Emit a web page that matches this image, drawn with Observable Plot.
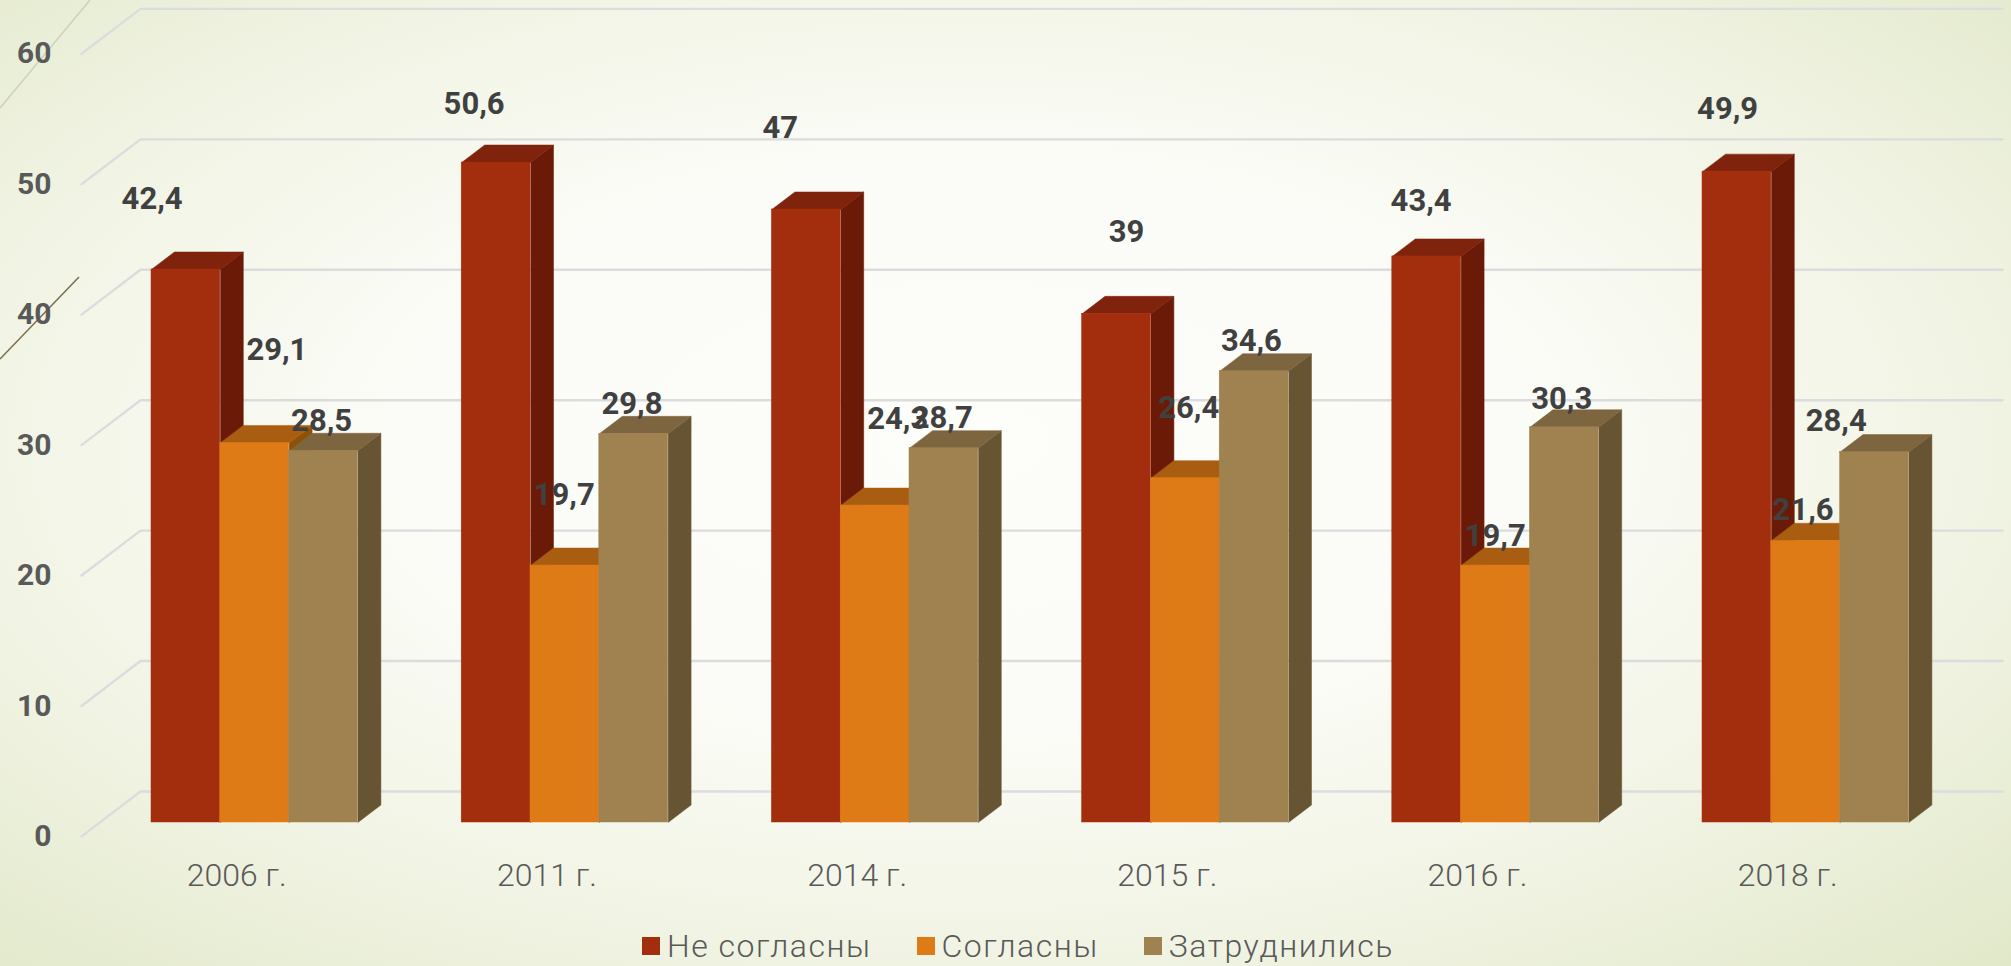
<!DOCTYPE html>
<html lang="ru">
<head>
<meta charset="utf-8">
<script src="https://cdn.jsdelivr.net/npm/d3@7"></script>
<script src="https://cdn.jsdelivr.net/npm/@observablehq/plot@0.6"></script>
<style>
  html, body { margin: 0; padding: 0; width: 2011px; height: 966px; overflow: hidden; }
  body {
    position: relative;
    background-color: #f4f7ea;
    background-image:
      url("data:image/svg+xml,%3Csvg xmlns='http://www.w3.org/2000/svg' width='2011' height='966'%3E%3Cline x1='0' y1='108' x2='90' y2='0' stroke='%23cfd1bd' stroke-width='1.5'/%3E%3Cline x1='0' y1='359' x2='79' y2='277' stroke='%237a6c4e' stroke-width='1.5'/%3E%3C/svg%3E"),
      radial-gradient(ellipse farthest-corner at 48% 46%, #fdfdfa 0%, #fbfcf7 38%, #f1f4e4 68%, #e1e8c9 100%);
    font-family: Roboto, "Noto Sans", sans-serif;
  }
  #chart svg { display: block; }
  #legend { position: absolute; left: 642px; top: 926px; height: 40px; display: flex; align-items: center; color: #595959; font-size: 32px; font-weight: 300; letter-spacing: 1.5px; white-space: nowrap; }
  #legend .sw { width: 18px; height: 18px; margin-right: 7px; flex: none; }
  #legend .it { display: flex; align-items: center; }
</style>
</head>
<body>
<div id="chart"></div>
<div id="legend"></div>
<script>
// Data
const years = ["2006 г.", "2011 г.", "2014 г.", "2015 г.", "2016 г.", "2018 г."];
const seriesNames = ["Не согласны", "Согласны", "Затруднились"];
const disagree = [42.4, 50.6, 47, 39, 43.4, 49.9];
const agree = [29.1, 19.7, 24.3, 26.4, 19.7, 21.6];
const unsure = [28.5, 29.8, 28.7, 34.6, 30.3, 28.4];
const yTicks = [0, 10, 20, 30, 40, 50, 60];

// Styles
const frontColors = ["#a32e0d", "#de7b17", "#9f8250"];
const topColors = ["#7f230c", "#a95d10", "#7c653f"];
const sideColors = ["#6b1a08", "#8f5007", "#675433"];

// Hand placement of the value labels, in pixels from the bar's top centre
const labelNudgeX = [
  [-33.8, -22, -26, 10, -5.6, -9.3],
  [22.2, -0.7, 22.6, 3.5, -0.2, -2.6],
  [-1.9, -1.7, -1.6, -2.7, -2.6, -38.3]
];
const labelNudgeY = [
  [-70.6, -58.5, -81.1, -81.7, -54.9, -62.5],
  [-92.9, -70.6, -86.2, -70.4, -29.6, -30.4],
  [-30.1, -29.8, -30.1, -30.1, -28.4, -31.4]
];

// Scale geometry: x is in group slots, y in chart values
const W = 2011, H = 926, mL = 60, mT = 39.4, mB = 104;
const slotPx = 310.2, originPx = 151;
const unitPx = (H - mB - mT) / 60;
const barW = 68.8 / slotPx;
const depthX = 23 / slotPx, depthY = 17.5 / unitPx;
const gridFrontX = (81 - originPx) / slotPx, gridBackX = (140 - originPx) / slotPx, gridEndX = (2002 - originPx) / slotPx;
const gridFrontY = -13.9 / unitPx, gridBackY = 31 / unitPx;

const valuesBySeries = [disagree, agree, unsure];
const bars = [];
years.forEach((year, g) => {
  valuesBySeries.forEach((vals, s) => {
    const x1 = g + s * barW;
    bars.push({year, s, g, value: vals[g], x1, x2: x1 + barW, color: frontColors[s]});
  });
});

// Visible side and top faces of each box, left to right
const faces = [];
bars.forEach((b, i) => {
  [[b.x2, 0], [b.x2 + depthX, depthY], [b.x2 + depthX, b.value + depthY], [b.x2, b.value]]
    .forEach(([x, y]) => faces.push({id: "side" + i, x, y, fill: sideColors[b.s]}));
  [[b.x1, b.value], [b.x1 + depthX, b.value + depthY], [b.x2 + depthX, b.value + depthY], [b.x2, b.value]]
    .forEach(([x, y]) => faces.push({id: "top" + i, x, y, fill: topColors[b.s]}));
});

const grid = yTicks.flatMap(v => [
  {v, x: gridFrontX, y: v + gridFrontY},
  {v, x: gridBackX, y: v + gridBackY},
  {v, x: gridEndX, y: v + gridBackY}
]);

const labels = bars.map(b => ({
  text: String(b.value).replace(".", ","),
  x: b.x1 + barW / 2 + labelNudgeX[b.s][b.g] / slotPx,
  y: b.value - labelNudgeY[b.s][b.g] / unitPx
}));

const chart = Plot.plot({
  width: W, height: H,
  marginLeft: mL, marginRight: 0, marginTop: mT, marginBottom: mB,
  style: {background: "transparent", fontFamily: "Roboto, 'Noto Sans', sans-serif"},
  x: {domain: [(mL - originPx) / slotPx, (W - originPx) / slotPx]},
  y: {domain: [0, 60]},
  color: {type: "identity"},
  marks: [
    Plot.line(grid, {x: "x", y: "y", z: "v", stroke: "#dcdcde", strokeWidth: 2.4, curve: "linear"}),
    Plot.line(faces, {x: "x", y: "y", z: "id", fill: "fill", stroke: "fill", strokeWidth: 0.5, curve: "linear"}),
    Plot.rectY(bars, {x1: "x1", x2: "x2", y1: 0, y2: "value", fill: "color", stroke: "color", strokeWidth: 0.5, inset: 0}),
    Plot.axisY({ticks: yTicks, tickSize: 0, tickPadding: 9, dy: 13.9, label: null, tickFormat: d => String(d),
      fontSize: 30, fontWeight: 700, color: "#595959"}),
    Plot.axisX({ticks: years.map((_, g) => g + 1.5 * barW), tickSize: 0, tickPadding: 41, dx: -18, label: null,
      tickFormat: (d, i) => years[i], fontSize: 32, fontWeight: 300, color: "#595959"}),
    Plot.text(labels, {x: "x", y: "y", text: "text", fontSize: 31, fontWeight: 700, fill: "#404040"})
  ]
});
document.getElementById("chart").append(chart);

const legend = document.getElementById("legend");
const gaps = [45, 45, 0];
seriesNames.forEach((name, i) => {
  const it = document.createElement("div");
  it.className = "it";
  it.style.marginRight = gaps[i] + "px";
  const sw = document.createElement("span");
  sw.className = "sw";
  sw.style.background = frontColors[i];
  const t = document.createElement("span");
  t.textContent = name;
  it.append(sw, t);
  legend.append(it);
});
</script>
</body>
</html>
